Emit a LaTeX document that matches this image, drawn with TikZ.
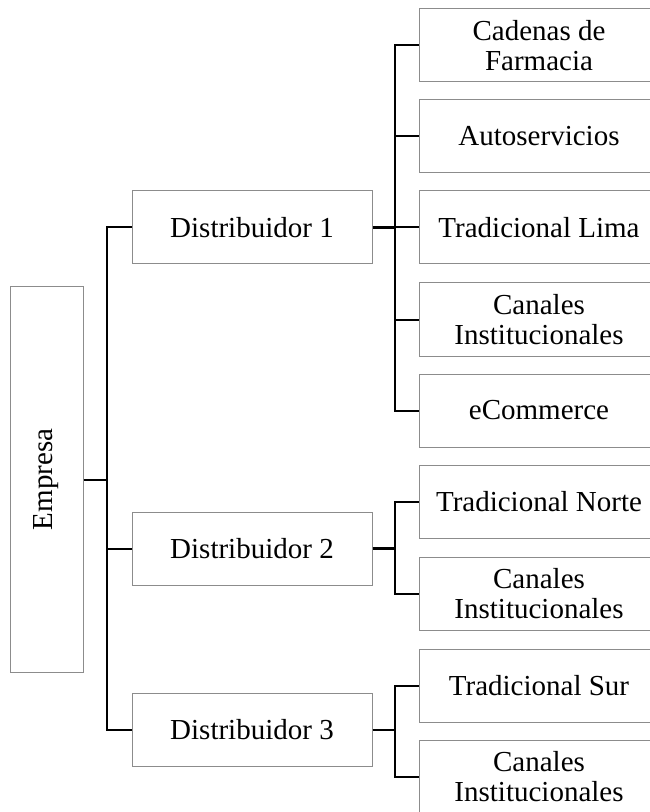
\documentclass[tikz,border=0pt]{standalone}
\usepackage{fontspec}
\setmainfont{Liberation Serif}
\tikzset{
  caja/.style={draw=black!45, line width=0.5pt, inner sep=0pt, align=center,
    minimum width=120pt, minimum height=36.5pt, font=\fontsize{14.5}{15}\selectfont},
  enlace/.style={line width=1pt},
  tramo/.style={line width=1.4pt}
}
\begin{document}
\begin{tikzpicture}[x=0.5pt,y=-0.5pt]
            \useasboundingbox (0,0) rectangle (649,812);

            \node[caja, rotate=90, minimum width=192.5pt] (emp) at (46.5,479.5) {Empresa};

            \node[caja] (d1) at (252,227.5) {Distribuidor 1};
            \node[caja] (d2) at (252,548.5) {Distribuidor 2};
            \node[caja] (d3) at (252,730) {Distribuidor 3};

            \node[caja] (c1) at (539,45.5) {Cadenas de\\Farmacia};
            \node[caja] (c2) at (539,136) {Autoservicios};
            \node[caja] (c3) at (539,227.5) {Tradicional Lima};
            \node[caja] (c4) at (539,319.5) {Canales\\Institucionales};
            \node[caja] (c5) at (539,410.5) {eCommerce};
            \node[caja] (c6) at (539,501.5) {Tradicional Norte};
            \node[caja] (c7) at (539,594) {Canales\\Institucionales};
            \node[caja] (c8) at (539,685.5) {Tradicional Sur};
            \node[caja] (c9) at (539,776.5) {Canales\\Institucionales};

            \coordinate (t0) at (107,0);
            \coordinate (t1) at (395,0);

            \draw[enlace] (d1.west) -| (t0|-d3.west) -- (d3.west);
            \draw[enlace] (d2.west) -- (d2.west-|t0);
            \draw[enlace] (emp.south) -- (emp.south-|t0);

            \draw[enlace] (c1.west) -| (t1|-c5.west) -- (c5.west);
            \foreach \c in {c2,c3,c4}
                \draw[enlace] (\c.west) -- (\c.west-|t1);
            \draw[enlace] (c6.west) -| (t1|-c7.west) -- (c7.west);
            \draw[enlace] (c8.west) -| (t1|-c9.west) -- (c9.west);

            \foreach \d in {d1,d2,d3}
                \draw[tramo] (\d.east) -- (\d.east-|t1);
        \end{tikzpicture}
\end{document}
